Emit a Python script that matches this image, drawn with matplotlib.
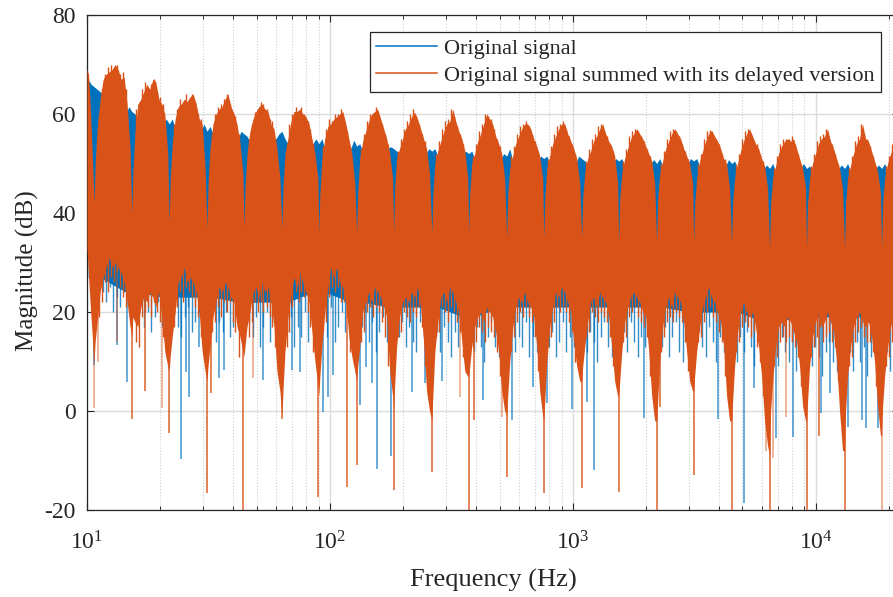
import numpy as np
import matplotlib
matplotlib.use('Agg')
import matplotlib.pyplot as plt

plt.rcParams['font.family'] = ['Liberation Serif', 'DejaVu Serif']
plt.rcParams['axes.unicode_minus'] = False

blue = '#0072BD'
orange = '#D95319'

# comb notches (Hz)
notch_hz = [10.7, 15.3, 21.8, 31.2, 44.3, 63.5, 90.1, 129, 183, 263, 373,
            535, 760, 1089, 1547, 2217, 3147, 4510, 6467, 9180, 13160, 18700]

# sample spots inside one lobe, as a ratio of its notch frequency
lobe_ratio = [1, 1.0095, 1.029, 1.058, 1.089, 1.12, 1.153, 1.186, 1.22, 1.255, 1.292, 1.329, 1.367, 1.406]
tip_ratio = [1.044, 1.074, 1.105, 1.137, 1.17, 1.203, 1.238, 1.274, 1.31, 1.348]
blue_tip_ratio = [1.05, 1.085, 1.12, 1.16, 1.2, 1.24, 1.28, 1.33]

# top of the orange trace, one row per lobe (dB)
orange_top = [
    [42, 50, 57, 63, 67, 68, 68.5, 69, 70, 69, 67, 67.5, 62, 53],
    [40, 48, 56, 62, 63, 64.5, 66, 65, 67, 66.5, 63, 62, 60, 52],
    [38, 47, 54, 59, 61.5, 62, 63, 62.5, 63.5, 64, 62, 59, 58, 49],
    [37, 46, 53, 58, 60, 61, 61.5, 63, 64, 61.5, 60, 58, 54, 48],
    [37, 45, 52, 56.5, 59, 60.5, 61.5, 62, 61, 60.5, 58, 57, 53, 47],
    [37, 45, 52, 55, 58.5, 60.5, 60.5, 61, 60, 59.5, 58, 55, 52, 47],
    [36, 44, 51, 55, 57.5, 58, 59, 59.5, 60, 60.5, 58, 55, 52, 46],
    [36, 44, 51, 54.5, 56.5, 58.5, 60, 60.5, 61, 59, 57, 55, 52, 47],
    [36, 45, 51, 53, 55, 57, 58, 59.5, 60.4, 59, 57, 55, 53, 48],
    [36, 44, 50, 52.5, 54.5, 56.5, 58, 58.5, 61, 58.5, 56.5, 55, 52.5, 47],
    [36, 44, 50, 52, 54.5, 56, 58, 60, 59, 58, 55.5, 54, 52, 47],
    [35, 44, 49, 51.5, 54, 55.5, 57, 58, 58, 57, 55, 53.5, 51.5, 47],
    [35, 43, 49, 51.5, 54, 55.5, 57, 58, 58, 56, 54.5, 53, 51, 46],
    [35, 43, 48, 51, 52.5, 54.5, 55.5, 57, 58, 56, 54.5, 53.5, 51.5, 46],
    [34, 43, 48, 51, 53, 55, 56, 57, 56, 55, 53.5, 52, 50.5, 46],
    [34, 43, 48, 50.5, 53, 54.5, 56, 57, 56, 55, 53, 51.5, 50, 46],
    [34, 42, 47, 50.5, 52.5, 54.5, 56, 56.7, 55.5, 54.5, 53, 51, 50, 45],
    [34, 42, 47, 50, 52.5, 54.5, 56, 57, 55.5, 54, 53, 51, 49.5, 45],
    [33, 42, 47, 49.5, 52, 53.5, 54.5, 55, 54.5, 55, 53, 51, 49, 45],
    [33, 42, 47, 50, 52, 54, 55, 55.5, 57, 54.5, 53, 51, 49, 45],
    [33, 42, 47, 49.5, 52, 54, 55, 58, 55, 54.5, 52.5, 50.5, 48.5, 44],
    [33, 42, 47, 50, 52, 53.5, 54.5, 55, 54, 53, 51, 49, 47, 43],
]

# small peaks between those samples (dB)
orange_top_tip = [
    [60, 65, 68, 69.5, 70, 69, 70, 68, 68.5, 65],
    [61, 62, 65, 66.5, 64, 66, 67, 64.5, 63.5, 62],
    [58, 61, 63, 62, 64, 63, 64, 62.5, 60, 59],
    [56, 60, 61.5, 62, 63, 64, 62, 60.5, 59.5, 56],
    [55, 58, 60.5, 61, 62.5, 62, 61, 59, 58.5, 55],
    [54, 58, 60, 61.5, 60.5, 61.5, 60, 58.5, 57, 54],
    [53.5, 57, 59, 58.5, 60, 60, 61, 58.5, 56.5, 53.5],
    [53, 56, 58.5, 60, 60, 61.5, 59.5, 58, 56, 54],
    [52.5, 55, 57, 58.5, 60, 61, 59.5, 58, 56, 54.5],
    [52, 54.5, 57, 58.5, 59, 61, 59.5, 57.5, 56, 54],
    [51.5, 54, 56.5, 58, 60, 59.5, 59, 57, 55, 53.5],
    [51.5, 53.5, 56, 57.5, 58, 58.5, 57.5, 56, 54.5, 52.5],
    [51, 53.5, 56, 57.5, 58, 58.5, 57, 55.5, 54, 52],
    [50.5, 53, 55, 56, 57.5, 58, 56.5, 55.5, 54, 52.5],
    [50.5, 53, 55.5, 56.5, 57, 56.5, 55.5, 54.5, 53, 51.5],
    [50, 52.5, 55, 56.5, 57, 56.5, 55.5, 54, 52.5, 51],
    [50, 52, 55, 56.5, 56.7, 56, 55, 54, 52, 51],
    [50, 52, 55, 56.5, 57, 56, 54.5, 54, 52, 50.5],
    [49, 51.5, 54, 55, 55, 55, 55.5, 54, 52, 50],
    [49.5, 52, 54.5, 55.5, 56, 57, 55, 54, 52, 50],
    [49, 51.5, 54.5, 55.5, 58, 56, 55, 53.5, 51.5, 49.5],
    [49.5, 51.5, 54, 54.5, 55, 54.5, 53.5, 52, 50, 48],
]

# bottom of the orange trace, one row per lobe (dB)
orange_low = [
    [10, 14, 18, 24, 27, 29, 31, 29, 30, 29, 28, 26, 22, 17],
    [15, 19, 18, 17, 21, 23, 22, 24, 23, 21, 24, 19, 12, 9],
    [8, 11, 15, 20, 26, 27, 29, 26, 27, 26, 24, 20, 12, 8],
    [6, 9, 13, 19, 22, 25, 24, 26, 25, 23, 22, 17, 15, 12],
    [11, 13, 17, 20, 24, 25, 23, 26, 24, 25, 22, 17, 8, 4],
    [-1, 4, 12, 19, 23, 27, 25, 28, 26, 24, 22, 16, 10, 5],
    [3, 7, 13, 20, 25, 29, 27, 29, 26, 25, 22, 15, 11, 8],
    [6, 9, 13, 20, 22, 24, 22, 25, 24, 23, 21, 19, 8, 3],
    [0, 5, 13, 19, 22, 23, 22, 24, 23, 25, 21, 14, 4, 0],
    [-2, 3, 12, 18, 23, 24, 22, 25, 24, 22, 20, 14, 8, 7],
    [7, 9, 13, 17, 19, 20, 18, 21, 20, 19, 16, 12, 4, 0],
    [-1, 3, 10, 17, 21, 23, 22, 24, 22, 21, 19, 13, 4, -1],
    [-2, 2, 10, 17, 21, 24, 23, 25, 24, 22, 20, 14, 9, 6],
    [6, 9, 13, 18, 22, 23, 21, 24, 23, 22, 19, 13, 6, 3],
    [3, 6, 12, 18, 21, 23, 24, 23, 22, 20, 19, 12, 3, -2],
    [-2, 2, 10, 17, 21, 23, 21, 24, 23, 22, 18, 12, 6, 4],
    [4, 7, 12, 17, 21, 23, 25, 23, 22, 20, 18, 13, 3, -2],
    [-2, 2, 9, 16, 20, 22, 20, 19, 20, 17, 13, 7, -2, -7],
    [-9, 0, 6, 13, 17, 18, 17, 19, 18, 16, 14, 9, 1, -2],
    [-2, 2, 9, 15, 18, 20, 17, 18, 20, 18, 16, 10, 0, -8],
    [-8, 0, 7, 13, 17, 19, 20, 18, 17, 18, 15, 10, 1, -5],
    [-5, 1, 7, 13, 17, 19, 20, 18, 17, 18, 15, 10, 1, -5],
]

# small dips between those samples (dB)
orange_low_tip = [
    [19, 22, 26, 24, 27, 26, 28, 25, 23, 21],
    [14, 13, 19, 20, 21, 19, 22, 20, 18, 15],
    [17, 21, 24, 22, 25, 24, 23, 21, 19, 15],
    [16, 18, 21, 19, 22, 20, 22, 18, 16, 11],
    [15, 18, 22, 20, 22, 20, 21, 19, 17, 13],
    [13, 16, 21, 24, 22, 24, 23, 20, 17, 12],
    [16, 18, 23, 25, 24, 25, 22, 22, 19, 12],
    [14, 16, 20, 21, 19, 21, 20, 18, 15, 9],
    [15, 16, 20, 19, 18, 20, 19, 21, 17, 9],
    [15, 16, 21, 20, 18, 21, 20, 18, 16, 11],
    [13, 14, 17, 16, 14, 17, 16, 15, 12, 7],
    [12, 15, 18, 20, 19, 21, 19, 18, 15, 8],
    [13, 15, 18, 21, 20, 21, 20, 18, 16, 10],
    [15, 16, 20, 19, 18, 20, 19, 18, 15, 9],
    [14, 15, 19, 20, 21, 19, 18, 17, 15, 7],
    [12, 15, 18, 19, 18, 20, 19, 18, 14, 8],
    [14, 15, 18, 20, 21, 19, 18, 16, 14, 7],
    [12, 14, 17, 18, 17, 15, 16, 13, 10, 3],
    [9, 11, 14, 15, 14, 15, 14, 13, 11, 5],
    [11, 13, 15, 17, 14, 15, 16, 14, 13, 6],
    [9, 11, 14, 16, 17, 15, 14, 14, 12, 5],
    [9, 11, 14, 16, 17, 15, 14, 14, 12, 5],
]

# the sliver left of the first notch
edge_hz = [10, 10.15, 10.35, 10.55]
edge_top = [69, 68, 60, 50]
edge_low = [33, 27, 20, 14]

# blue trace only shows around the notches
blue_ratio = [0.945, 0.972, 1, 1.029, 1.058]
blue_top = [
    [67, 66, 65.5, 65, 64.5],
    [60, 61.5, 60.5, 60, 59],
    [58, 59, 58, 59, 57],
    [56.5, 58, 56.5, 57.5, 56],
    [55, 56.5, 56, 55.5, 54.5],
    [55, 56, 56.5, 55, 54],
    [54, 55, 54, 55, 53],
    [53, 54.7, 53.5, 54, 52.5],
    [53, 53.4, 53, 52.5, 52],
    [52, 53, 52.5, 53, 51.5],
    [52, 52.5, 52, 52.5, 51],
    [51, 52, 51.5, 53, 50.5],
    [50.5, 51.5, 51, 51.5, 50],
    [50, 51.5, 51, 50.5, 50],
    [50, 51, 50.5, 51, 49.5],
    [50, 50.8, 50, 51, 49.5],
    [50, 51, 50.5, 51, 49.5],
    [49.5, 50.8, 50, 50.5, 49],
    [49, 49.7, 49, 50, 48.5],
    [49, 50, 49, 49.5, 48.5],
    [49, 49.7, 49, 50, 48.5],
    [49, 49.7, 49, 50, 48.5],
]
blue_low = [
    [27, 27, 26, 26, 27],
    [24, 24, 23, 23, 24],
    [23, 23, 23, 23, 23],
    [23, 23, 22, 22, 23],
    [22, 22, 22, 22, 22],
    [22, 22, 22, 22, 22],
    [24, 24, 24, 24, 24],
    [22, 22, 22, 22, 22],
    [21, 21, 21, 21, 21],
    [21, 21, 21, 21, 21],
    [19, 19, 19, 19, 19],
    [21, 21, 21, 21, 21],
    [21, 21, 21, 21, 21],
    [21, 21, 21, 21, 21],
    [21, 21, 21, 21, 21],
    [21, 21, 21, 21, 21],
    [20, 20, 20, 20, 20],
    [20, 20, 20, 20, 20],
    [18, 18, 18, 18, 18],
    [19, 19, 19, 19, 19],
    [19, 19, 19, 19, 19],
    [19, 19, 19, 19, 19],
]

# short blue teeth under each lobe (dB)
blue_tooth = [
    [26, 24, 22, 25, 20, 23, 21, 24],
    [18, 21, 17, 20, 16, 19, 22, 17],
    [20, 17, 15, 19, 21, 16, 18, 20],
    [19, 14, 18, 16, 20, 15, 17, 19],
    [18, 15, 19, 13, 17, 20, 14, 18],
    [16, 19, 13, 17, 15, 20, 14, 18],
    [19, 15, 21, 14, 17, 20, 16, 19],
    [17, 20, 14, 18, 12, 16, 19, 14],
    [15, 18, 13, 17, 14, 12, 18, 15],
    [16, 12, 17, 14, 11, 16, 13, 18],
    [12, 17, 13, 10, 15, 18, 13, 11],
    [17, 12, 15, 13, 18, 11, 15, 12],
    [13, 16, 11, 14, 18, 12, 15, 13],
    [12, 16, 14, 10, 15, 18, 13, 11],
    [16, 12, 18, 14, 11, 15, 13, 17],
    [13, 17, 11, 15, 18, 12, 10, 14],
    [16, 13, 11, 17, 14, 10, 15, 12],
    [10, 15, 12, 16, 13, 9, 14, 11],
    [13, 9, 15, 12, 10, 14, 8, 12],
    [9, 13, 11, 7, 12, 14, 10, 8],
    [12, 8, 14, 10, 13, 7, 11, 13],
    [12, 8, 14, 10, 13, 7, 11, 13],
]

# deep single-bin dips, frequency (Hz) and depth (dB)
blue_dip_hz = [10.7, 13.3, 14.6, 24.4, 25.6, 26.4, 29, 34.9, 36.6, 53, 69.9, 75.2, 93.6, 97.9, 103, 133, 141,
               149, 156, 179, 217, 246, 289, 428, 563, 684, 787, 989, 1143, 1220, 1960, 3980, 5058, 5600,
               6850, 8060, 10500, 11500, 13600, 15500, 16200, 18000]
blue_dip_db = [9.3, 13.3, 5.9, -9.7, 7.9, 2.9, 12.9, 6.7, 8.3, 6.2, 8.3, 7.9, -0.2, 2.9, 7.3, 1.2, 8.9,
               5.6, -11.7, -9, 3.8, 5.6, 6, 2.2, -1.8, 4.9, 1.6, 0.4, 1.8, -12, -1.4, -1.6, -18.6, 4.7,
               -5.5, -5.2, -0.4, 3.7, -3.2, -1.8, -3.4, -3.4]
orange_dip_hz = [15.3, 17.3, 21.8, 31.2, 32.4, 43.9, 63.5, 89, 117.5, 129, 183, 263, 373, 391, 535, 761,
                 1089, 1547, 2217, 2280, 3147, 4510, 6467, 9180, 10300, 13160]
orange_dip_db = [-1.6, 4, -4.5, -16.6, 3.6, -20, -1.6, -17.4, -15.4, -11, -16, -12.3, -20, -1.8, -13.3, -16.6,
                 -15.5, -16.4, -20, 0.8, -13, -20, -20, -20, -5, -20]
faint_dip_hz = [10.7, 11.1, 13.3, 20.3, 48.2, 342, 510, 6240, 6680, 7560, 18700]
faint_dip_db = [0.6, 10, 14, 0.6, 6.7, 2.9, -1.2, -8, -9.4, -1.2, -20]

ytick_vals = [-20, 0, 20, 40, 60, 80]

fig = plt.figure(figsize=(8.93, 5.97), dpi=100)
ax = fig.add_axes([87 / 893, 1 - 510 / 597, 812 / 893, 495 / 597])

orange_x = np.concatenate([edge_hz, np.outer(notch_hz, lobe_ratio).ravel()])
orange_hi = np.concatenate([edge_top, np.ravel(orange_top)])
orange_lo = np.concatenate([edge_low, np.ravel(orange_low)])
blue_x = np.outer(notch_hz, blue_ratio).ravel()
tip_x = np.outer(notch_hz, tip_ratio).ravel()
tooth_x = np.outer(notch_hz, blue_tip_ratio).ravel()

# blue underneath
ax.fill_between(blue_x, np.ravel(blue_low), np.ravel(blue_top), color=blue, linewidth=0, zorder=2)
ax.vlines(tooth_x, np.ravel(blue_tooth), 30, color=blue, linewidth=1.0, alpha=0.8, zorder=2)
ax.vlines(blue_dip_hz, blue_dip_db, 30, color=blue, linewidth=1.1, alpha=0.75, zorder=2)

# orange on top
ax.fill_between(orange_x, orange_lo, orange_hi, color=orange, linewidth=0, zorder=3)
ax.vlines(tip_x, np.ravel(orange_low_tip), np.ravel(orange_top_tip), color=orange, linewidth=1.0, zorder=3)
ax.vlines(orange_dip_hz, orange_dip_db, 30, color=orange, linewidth=1.2, alpha=0.85, zorder=3)
ax.vlines(faint_dip_hz, faint_dip_db, 30, color=orange, linewidth=1.2, alpha=0.5, zorder=3)

ax.plot([], [], color=blue, linewidth=1.1, label='Original signal')
ax.plot([], [], color=orange, linewidth=1.1, label='Original signal summed with its delayed version')

ax.set_xscale('log')
ax.set_xlim(10, 22050)
ax.set_ylim(-20, 80)
ax.set_yticks(ytick_vals)

ax.set_axisbelow(True)
ax.grid(True, which='major', color='#dcdcdc', linewidth=1)
ax.grid(True, which='minor', axis='x', color='#cfcfcf', linewidth=0.8, linestyle=':')
ax.tick_params(which='both', direction='in', top=True, right=True, color='#262626', labelcolor='#262626')
ax.tick_params(which='major', length=5, width=0.8, labelsize=17, pad=15)
ax.tick_params(axis='y', which='major', pad=8)
ax.tick_params(which='minor', length=2.8, width=0.7)
for s in ax.spines.values():
    s.set_color('#262626')
    s.set_linewidth(0.9)

ax.set_xlabel('Frequency (Hz)', fontsize=19, color='#262626', labelpad=11)
ax.set_ylabel('Magnitude (dB)', fontsize=18, color='#262626', labelpad=4, y=0.483)

leg = ax.legend(loc='upper left', bbox_to_anchor=(370 / 893, 1 - 32 / 597), bbox_transform=fig.transFigure,
                fontsize=16, fancybox=False, framealpha=1, edgecolor='#262626', borderaxespad=0,
                borderpad=0.28, handlelength=2.75, handletextpad=0.32, labelspacing=0.3)
leg.get_frame().set_linewidth(0.9)
leg.set_zorder(5)
for t in leg.get_texts():
    t.set_color('#262626')

fig.savefig('out.png', dpi=100)
